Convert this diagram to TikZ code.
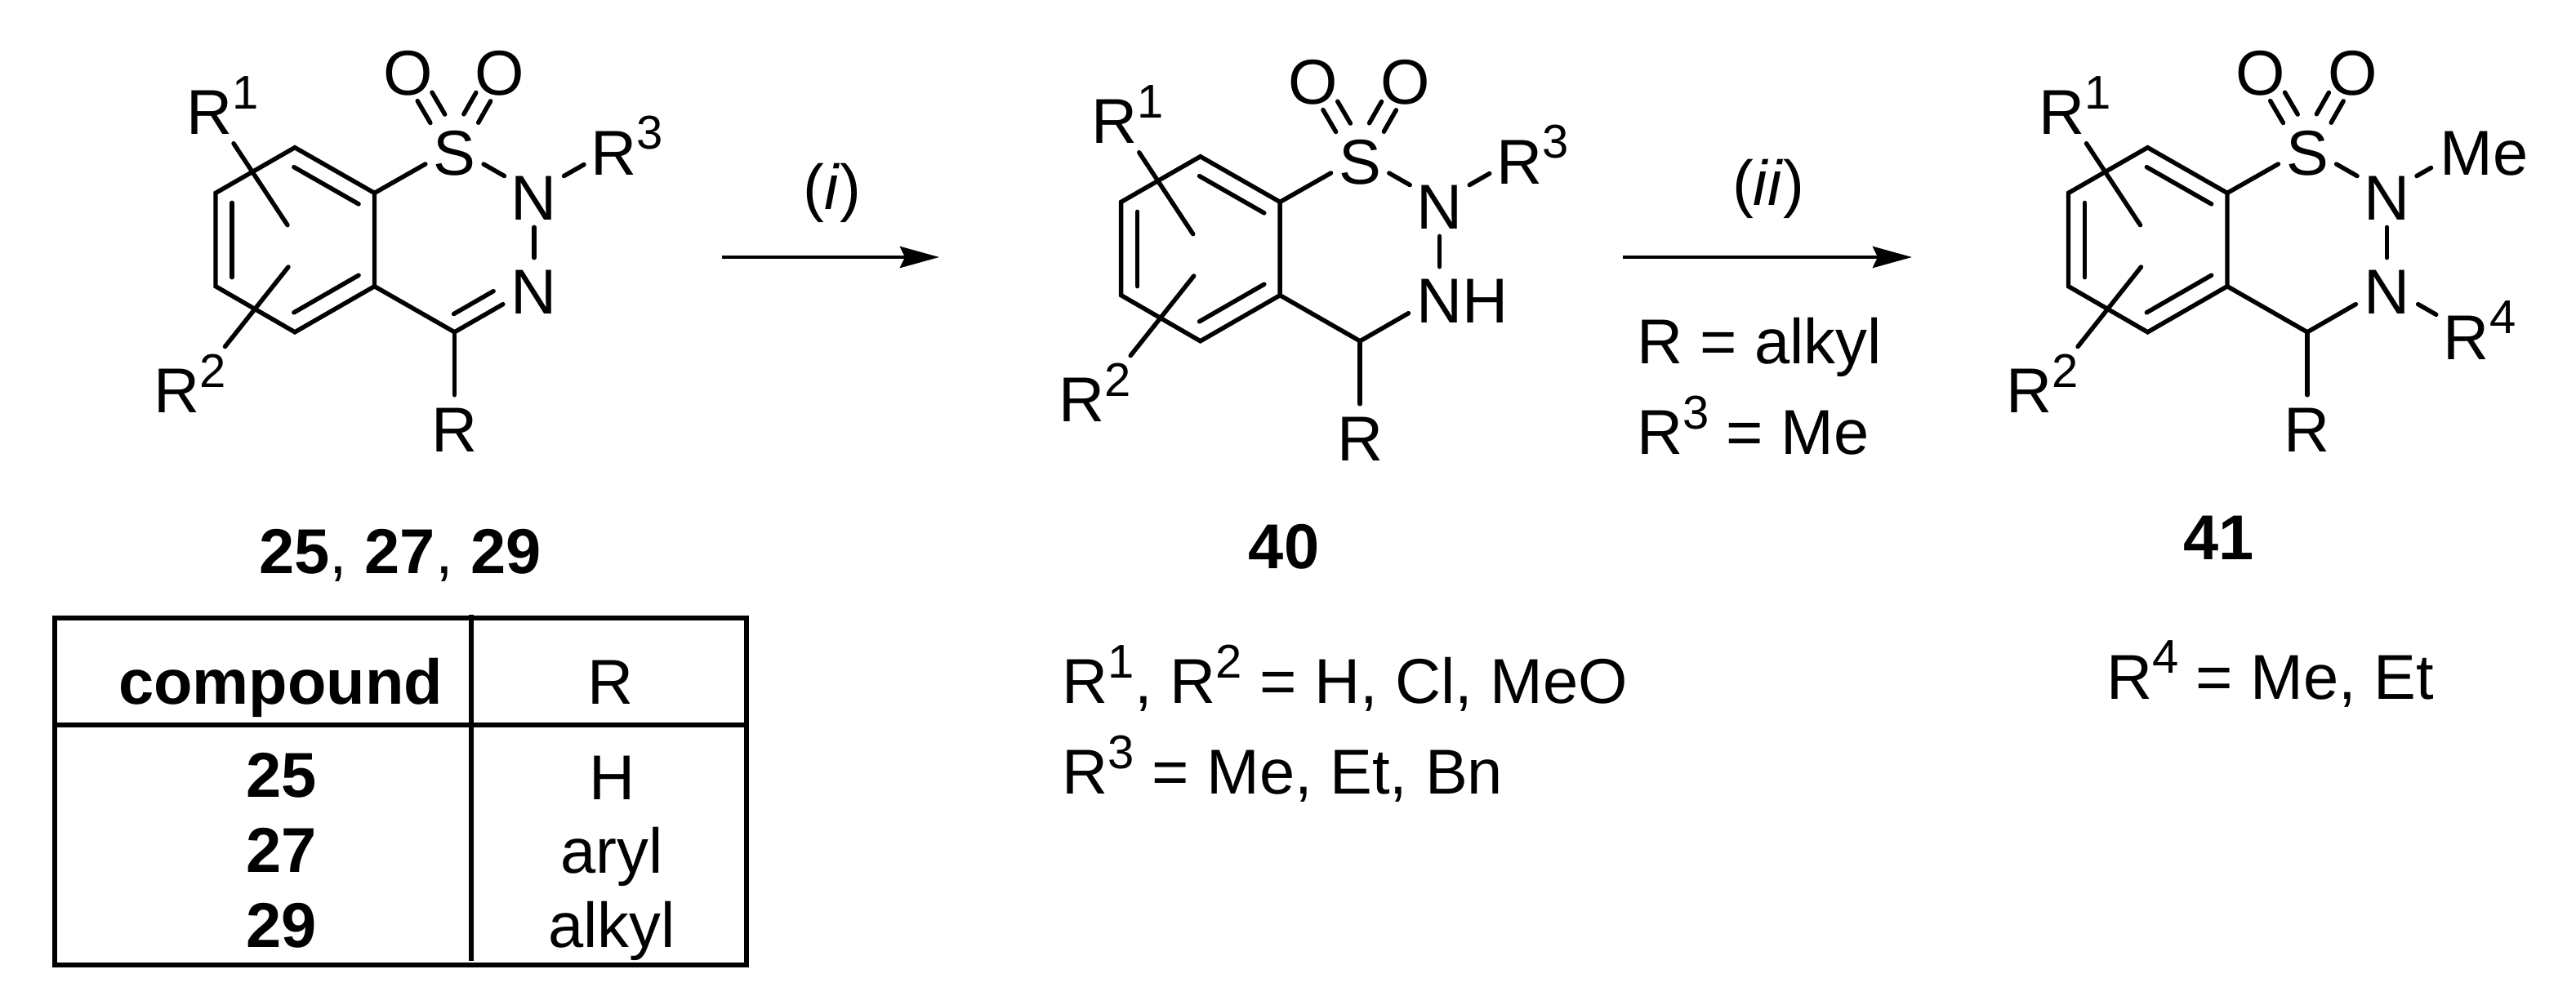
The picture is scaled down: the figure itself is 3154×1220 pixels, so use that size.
\documentclass[tikz,border=0pt]{standalone}
\usepackage{fontspec}
\setmainfont{Liberation Sans}
\usetikzlibrary{arrows.meta}
\newcommand\myfs{\fontsize{22.1}{26}\selectfont}
\newcommand\mysup[1]{\raisebox{3.15mm}{\fontsize{16.5}{18}\selectfont #1}}
\newcommand\atomtxt[1]{\raisebox{-3.35mm}[0pt][0pt]{#1}}
\tikzset{
  bond/.style={line width=1.55pt,line cap=round,line join=miter},
  atom/.style={circle,inner sep=0pt,outer sep=0pt,minimum size=#1,font=\myfs},
  atom/.default=8.2mm,
  lab/.style={anchor=base west,inner sep=0pt,outer sep=0pt,font=\myfs},
  ctr/.style={anchor=base,inner sep=0pt,outer sep=0pt,font=\myfs},
  rxn/.style={line width=1.35pt,-{Stealth[length=4.8mm,width=2.6mm,inset=0.6mm]}},
  tabline/.style={line width=1.55pt,line cap=rect,line join=miter},
  inner top/.style={bond,transform canvas={shift={(-10.7,18.5)}},shorten <=1.1mm,shorten >=1.0mm},
  inner left/.style={bond,transform canvas={shift={(20,0)}},shorten <=1.2mm,shorten >=1.1mm},
  inner bot/.style={bond,transform canvas={shift={(-10.7,-18.5)}},shorten <=1.1mm,shorten >=1.0mm},
}
\newcommand\benzcore[1]{%
  \coordinate (t) at (361,180.7);
  \coordinate (ur) at (458.5,236.4);
  \coordinate (lr) at (458.5,350.7);
  \coordinate (b) at (361,406.8);
  \coordinate (ll) at (264,350.7);
  \coordinate (ul) at (264,236.4);
  \coordinate (c) at (556.5,406.8);
  \coordinate (a1) at (286,175.7);
  \coordinate (i1) at (352,275.7);
  \coordinate (a2) at (275.5,424.6);
  \coordinate (i2) at (353,327);
  \node[atom] (S) at (556.5,180.7) {\atomtxt{S}};
  \node[atom] (O1) at (499.4,83) {\atomtxt{O}};
  \node[atom] (O2) at (612,83) {\atomtxt{O}};
  \node[atom=8.4mm] (N1) at (654,236.4) {\atomtxt{N}};
  \node[atom=8.8mm] (N2) at (654,350.7) {\atomtxt{#1}};
  \node[atom=7.2mm] (Rb) at (556.5,519.8) {\atomtxt{R}};
  \node[lab] (R1) at (228,165) {R\mysup{1}};
  \node[lab] (R2) at (188,505.7) {R\mysup{2}};
  \draw[bond] (t)--(ur)--(lr)--(b)--(ll)--(ul)--cycle;
  \draw[inner top] (t)--(ur);
  \draw[inner left] (ul)--(ll);
  \draw[inner bot] (b)--(lr);
  \draw[bond] (a1)--(i1);
  \draw[bond] (a2)--(i2);
  \draw[bond] (ur)--(S);
  \draw[bond] (S)--(N1);
  \draw[bond,shorten >=-0.9mm] (N1)--(N2);
  \draw[bond] (lr)--(c);
  \draw[bond] (c)--(Rb);
  \draw[bond,transform canvas={shift={(8.9,-5.2)}}] (S)--(O1);
  \draw[bond,transform canvas={shift={(-8.9,5.2)}}] (S)--(O1);
  \draw[bond,transform canvas={shift={(8.9,5.2)}}] (S)--(O2);
  \draw[bond,transform canvas={shift={(-8.9,-5.2)}}] (S)--(O2);
}
\begin{document}
\begin{tikzpicture}[x=0.1mm,y=-0.1mm]
\useasboundingbox (0,0) rectangle (3154,1220);

% molecule 25, 27, 29
\begin{scope}[name prefix=A-]
  \benzcore{N}
  \node[atom=8.4mm] (R3) at (751.5,180.7) {\atomtxt{R\rlap{\mysup{3}}}};
  \draw[bond] (N1)--(R3);
  \draw[bond] (c)--(N2);
  \draw[bond,transform canvas={shift={(-10,-17)}},shorten <=1.05mm,shorten >=0.2mm] (c)--(N2);
\end{scope}

% molecule 40
\begin{scope}[shift={(1108.7,11)},name prefix=B-]
  \benzcore{N\rlap{H}}
  \node[atom=8.4mm] (R3) at (751.5,180.7) {\atomtxt{R\rlap{\mysup{3}}}};
  \draw[bond] (N1)--(R3);
  \draw[bond] (c)--(N2);
\end{scope}

% molecule 41
\begin{scope}[shift={(2268.5,0)},name prefix=C-]
  \benzcore{N}
  \node[atom=10mm] (Me) at (751.5,180.7) {\atomtxt{\makebox[0pt][l]{\hspace*{-3.25mm}Me}}};
  \node[atom=8.6mm] (R4) at (751.5,406.8) {\atomtxt{R\rlap{\mysup{4}}}};
  \draw[bond] (N1)--(Me);
  \draw[bond] (N2)--(R4);
  \draw[bond] (c)--(N2);
\end{scope}

% arrows
\coordinate (a1s) at (884,315);
\coordinate (a1e) at (1150,315);
\coordinate (a2s) at (1987,315);
\coordinate (a2e) at (2341,315);
\draw[rxn] (a1s)--(a1e);
\draw[rxn] (a2s)--(a2e);
\node[ctr] (ti) at (1019,257) {(\textit{i})};
\node[ctr] (tii) at (2165,252) {(\textit{ii})};
\node[lab] (cond1) at (2004,445.7) {R = alkyl};
\node[lab] (cond2) at (2004,556.7) {R\mysup{3} = Me};

% compound labels
\node[ctr] (l25) at (490,702.7) {\textbf{25}, \textbf{27}, \textbf{29}};
\node[ctr] (l40) at (1572,696.7) {\textbf{40}};
\node[ctr] (l41) at (2716.5,685) {\textbf{41}};
\node[lab] (d1) at (1300.7,861.7) {R\mysup{1}, R\mysup{2} = H, Cl, MeO};
\node[lab] (d2) at (1300.7,972.7) {R\mysup{3} = Me, Et, Bn};
\node[lab] (d3) at (2579,856) {R\mysup{4} = Me, Et};

% table
\coordinate (tl) at (67,757);
\coordinate (tr) at (914,757);
\coordinate (br) at (914,1182);
\coordinate (bl) at (67,1182);
\coordinate (h1) at (67,888);
\coordinate (h2) at (914,888);
\coordinate (v1) at (577,753);
\coordinate (v2) at (577,1177);
\draw[tabline] (tl)--(tr)--(br)--(bl)--cycle;
\draw[tabline] (h1)--(h2);
\draw[tabline,line cap=butt] (v1)--(v2);
\node[ctr] (hc) at (343.5,862) {\textbf{compound}};
\node[ctr] (hr) at (748,862) {R};
\node[ctr] (c25) at (345,976) {\textbf{25}};
\node[ctr] (c27) at (345,1068) {\textbf{27}};
\node[ctr] (c29) at (345,1160) {\textbf{29}};
\node[ctr] (vH) at (750,979) {H};
\node[ctr] (var) at (749,1069) {aryl};
\node[ctr] (val) at (749,1160) {alkyl};
\end{tikzpicture}
\end{document}
